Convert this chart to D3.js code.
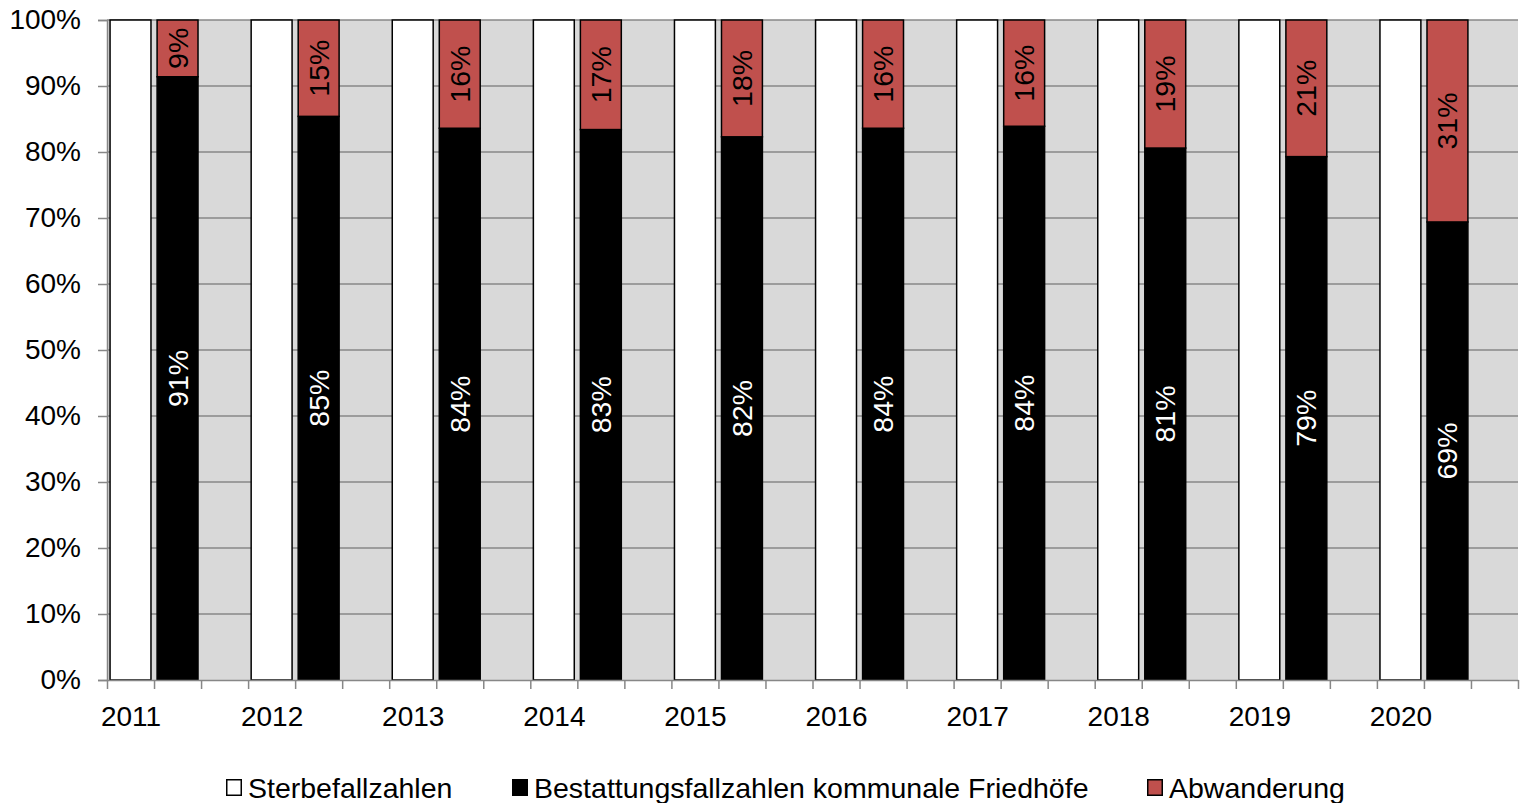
<!DOCTYPE html>
<html>
<head>
<meta charset="utf-8">
<script src="https://cdn.jsdelivr.net/npm/d3@7"></script>
<style>
  html, body { margin: 0; padding: 0; background: #fff; }
  svg { display: block; font-family: "Liberation Sans", Arial, sans-serif; }
</style>
</head>
<body>
<svg id="chart" width="1526" height="803"></svg>
<script>
// Years on the category axis
const years = ["2011", "2012", "2013", "2014", "2015", "2016", "2017", "2018", "2019", "2020"];
// Share of deaths (reference bar, always 100 %)
const sterbefall = [1, 1, 1, 1, 1, 1, 1, 1, 1, 1];
// Share of burials on municipal cemeteries
const bestattung = [0.914, 0.854, 0.836, 0.834, 0.823, 0.836, 0.839, 0.806, 0.793, 0.694];
// Share that moved elsewhere (rest up to 100 %)
const abwanderung = [0.086, 0.146, 0.164, 0.166, 0.177, 0.164, 0.161, 0.194, 0.207, 0.306];
// Value axis ticks
const yTicks = [0, 0.1, 0.2, 0.3, 0.4, 0.5, 0.6, 0.7, 0.8, 0.9, 1.0];

const legendItems = [
  { label: "Sterbefallzahlen", fill: "#ffffff" },
  { label: "Bestattungsfallzahlen kommunale Friedhöfe", fill: "#000000" },
  { label: "Abwanderung", fill: "#c0504d" }
];

const svg = d3.select("#chart");
const plot = { left: 107, right: 1518, top: 20, bottom: 680 };
const slotsPerYear = 3;
const nSlots = years.length * slotsPerYear;

// Each year takes three slots: deaths bar, burial/migration stack, gap
const xs = d3.scaleLinear().domain([0, nSlots]).range([plot.left, plot.right]);
const y = d3.scaleLinear().domain([0, 1]).range([plot.bottom, plot.top]);
const slotW = xs(1) - xs(0);
const barW = slotW * 0.87;

const RED = "#c0504d";
const GRID = "#878787";
const FONT = "Liberation Sans, Arial, sans-serif";

// Plot background
svg.append("rect")
  .attr("x", plot.left).attr("y", plot.top)
  .attr("width", plot.right - plot.left).attr("height", plot.bottom - plot.top)
  .attr("fill", "#d9d9d9");

// Horizontal gridlines
svg.append("g")
  .selectAll("line")
  .data(yTicks.slice(1))
  .join("line")
  .attr("x1", plot.left).attr("x2", plot.right)
  .attr("y1", d => y(d)).attr("y2", d => y(d))
  .attr("stroke", GRID).attr("stroke-width", 1.3);

const rows = years.map((yr, i) => ({
  year: yr, i,
  total: sterbefall[i],
  burial: bestattung[i],
  moved: abwanderung[i]
}));

const bars = svg.append("g");

// Deaths bar (white)
bars.selectAll("rect.total")
  .data(rows)
  .join("rect")
  .attr("class", "total")
  .attr("x", d => xs(d.i * slotsPerYear + 0.5) - barW / 2)
  .attr("width", barW)
  .attr("y", d => y(d.total))
  .attr("height", d => y(0) - y(d.total))
  .attr("fill", "#fff").attr("stroke", "#000").attr("stroke-width", 1.5);

// Burials (black, bottom of the stack)
bars.selectAll("rect.burial")
  .data(rows)
  .join("rect")
  .attr("class", "burial")
  .attr("x", d => xs(d.i * slotsPerYear + 1.5) - barW / 2)
  .attr("width", barW)
  .attr("y", d => y(d.burial))
  .attr("height", d => y(0) - y(d.burial))
  .attr("fill", "#000").attr("stroke", "#000").attr("stroke-width", 1.5);

// Migration (red, top of the stack)
bars.selectAll("rect.moved")
  .data(rows)
  .join("rect")
  .attr("class", "moved")
  .attr("x", d => xs(d.i * slotsPerYear + 1.5) - barW / 2)
  .attr("width", barW)
  .attr("y", d => y(d.burial + d.moved))
  .attr("height", d => y(d.burial) - y(d.burial + d.moved))
  .attr("fill", RED).attr("stroke", "#000").attr("stroke-width", 1.5);

const pct = d3.format(".0%");

// Value labels, rotated inside the segments
const labels = svg.append("g").attr("font-size", 28.5);
labels.selectAll("text.burial")
  .data(rows)
  .join("text")
  .attr("class", "burial")
  .attr("transform", d => `translate(${xs(d.i * slotsPerYear + 1.5)},${(y(0) + y(d.burial)) / 2}) rotate(-90)`)
  .attr("text-anchor", "middle")
  .attr("dy", "0.35em")
  .attr("fill", "#fff")
  .text(d => pct(d.burial));

labels.selectAll("text.moved")
  .data(rows)
  .join("text")
  .attr("class", "moved")
  .attr("transform", d => `translate(${xs(d.i * slotsPerYear + 1.5)},${(y(d.burial) + y(d.burial + d.moved)) / 2}) rotate(-90)`)
  .attr("text-anchor", "middle")
  .attr("dy", "0.35em")
  .attr("fill", "#000")
  .text(d => pct(d.moved));

// Y axis
const yAxis = svg.append("g")
  .attr("transform", `translate(${plot.left},0)`)
  .call(d3.axisLeft(y).tickValues(yTicks).tickFormat(pct).tickSize(9).tickPadding(17));
yAxis.select(".domain").attr("stroke", GRID).attr("stroke-width", 1.5);
yAxis.selectAll(".tick line").attr("stroke", GRID).attr("stroke-width", 1.5);
yAxis.selectAll("text").attr("font-size", 28).attr("fill", "#000").attr("font-family", FONT);

// X axis: tick marks between slots
const xAxis = svg.append("g")
  .attr("transform", `translate(0,${plot.bottom})`)
  .call(d3.axisBottom(xs).tickValues(d3.range(nSlots + 1)).tickFormat("").tickSize(9).tickSizeOuter(0));
xAxis.select(".domain").attr("stroke", GRID).attr("stroke-width", 1.5);
xAxis.selectAll(".tick line").attr("stroke", GRID).attr("stroke-width", 1.5);

// X axis: year labels under the first slot of each year
const yearPos = years.map((yr, i) => i * slotsPerYear + 0.5);
const xLabels = svg.append("g")
  .attr("transform", `translate(0,${plot.bottom})`)
  .call(d3.axisBottom(xs).tickValues(yearPos).tickFormat((d, i) => years[i]).tickSize(0).tickPadding(26));
xLabels.select(".domain").remove();
xLabels.selectAll("text").attr("font-size", 28).attr("fill", "#000").attr("font-family", FONT);

// Legend
const legendX = [226, 512, 1147];
const legend = svg.append("g").attr("font-size", 28.5);
const li = legend.selectAll("g")
  .data(legendItems)
  .join("g")
  .attr("transform", (d, i) => `translate(${legendX[i]},779)`);
li.append("rect")
  .attr("x", 0.75).attr("y", 0.75)
  .attr("width", 14.5).attr("height", 15.5)
  .attr("fill", d => d.fill).attr("stroke", "#000").attr("stroke-width", 1.5);
li.append("text")
  .attr("x", 22).attr("y", 19)
  .attr("fill", "#000")
  .text(d => d.label);
</script>
</body>
</html>
